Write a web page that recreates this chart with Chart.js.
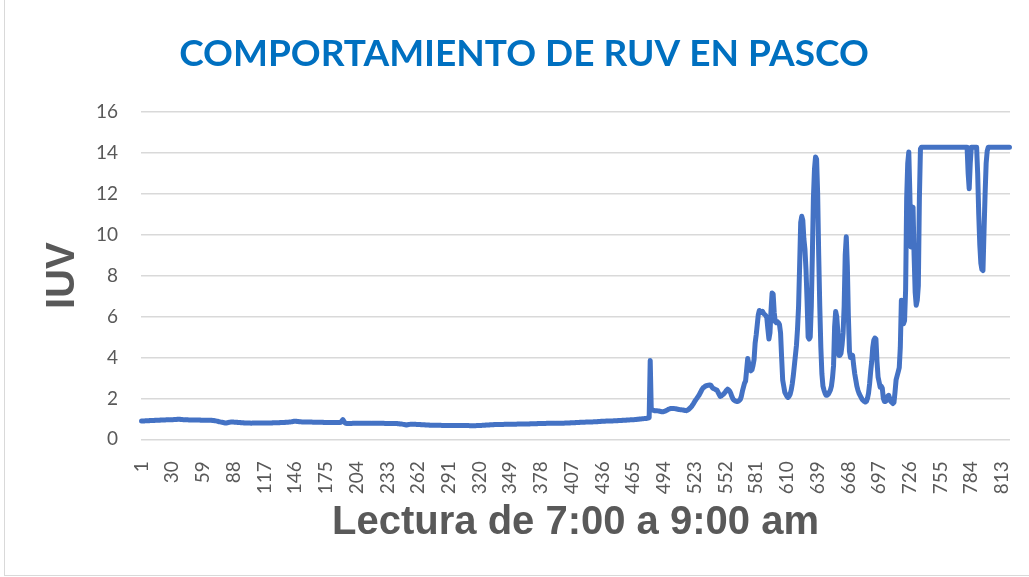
<!DOCTYPE html>
<html>
<head>
<meta charset="utf-8">
<script src="https://cdn.jsdelivr.net/npm/chart.js@4/dist/chart.umd.min.js"></script>
<style>
  html, body { margin: 0; padding: 0; background: #ffffff; overflow: hidden; }
  #wrap { position: relative; width: 1029px; height: 577px; }
  #frame { position: absolute; left: 4px; top: -2px; width: 1100px; height: 577px;
           border-left: 1px solid #d9d9d9; border-bottom: 1px solid #d9d9d9; pointer-events: none; }
</style>
</head>
<body>
<div id="wrap">
  <canvas id="c" width="1029" height="577"></canvas>
  <div id="frame"></div>
</div>
<script>
// ---- Data ----
const chartTitle = "COMPORTAMIENTO DE RUV EN PASCO";
const yTitle = "IUV";
const xTitle = "Lectura de 7:00 a 9:00 am";

// tick labels shown on the category axis
const tickLabels = [1, 30, 59, 88, 117, 146, 175, 204, 233, 262, 291, 320, 349, 378, 407, 436, 465, 494, 523, 552, 581, 610, 639, 668, 697, 726, 755, 784, 813];

// UV index readings, one per reading number
const iuv = [
  0.90,0.90,0.90,0.90,0.91,0.91,0.91,0.91,0.92,0.92,
  0.92,0.92,0.92,0.93,0.93,0.93,0.93,0.93,0.94,0.94,
  0.94,0.94,0.94,0.95,0.95,0.95,0.95,0.96,0.96,0.96,
  0.96,0.97,0.97,0.97,0.98,0.98,0.98,0.97,0.97,0.96,
  0.96,0.95,0.95,0.95,0.95,0.94,0.94,0.94,0.94,0.94,
  0.94,0.94,0.94,0.94,0.94,0.94,0.93,0.93,0.93,0.93,
  0.93,0.93,0.93,0.93,0.93,0.93,0.93,0.92,0.92,0.91,
  0.90,0.89,0.88,0.86,0.85,0.84,0.83,0.82,0.81,0.80,
  0.80,0.81,0.82,0.83,0.84,0.84,0.84,0.84,0.83,0.83,
  0.83,0.82,0.82,0.82,0.81,0.81,0.81,0.80,0.80,0.80,
  0.80,0.80,0.80,0.79,0.79,0.80,0.80,0.80,0.80,0.80,
  0.80,0.80,0.80,0.80,0.80,0.80,0.80,0.80,0.80,0.80,
  0.80,0.80,0.80,0.80,0.81,0.81,0.81,0.81,0.81,0.81,
  0.81,0.82,0.82,0.82,0.82,0.82,0.83,0.83,0.83,0.84,
  0.84,0.85,0.86,0.87,0.88,0.88,0.88,0.87,0.87,0.86,
  0.86,0.85,0.85,0.84,0.84,0.84,0.84,0.84,0.84,0.84,
  0.84,0.84,0.83,0.83,0.83,0.83,0.83,0.83,0.83,0.83,
  0.83,0.83,0.82,0.82,0.82,0.82,0.82,0.82,0.82,0.82,
  0.82,0.82,0.82,0.82,0.82,0.82,0.82,0.82,0.83,0.90,
  0.96,0.88,0.80,0.78,0.77,0.77,0.77,0.77,0.77,0.78,
  0.78,0.78,0.78,0.78,0.78,0.78,0.79,0.79,0.79,0.79,
  0.79,0.79,0.79,0.79,0.79,0.79,0.79,0.78,0.78,0.78,
  0.78,0.78,0.78,0.78,0.78,0.78,0.78,0.78,0.78,0.78,
  0.77,0.77,0.77,0.77,0.77,0.77,0.77,0.77,0.77,0.77,
  0.77,0.77,0.76,0.76,0.75,0.75,0.74,0.73,0.72,0.71,
  0.70,0.71,0.72,0.73,0.74,0.74,0.74,0.73,0.73,0.73,
  0.72,0.72,0.72,0.72,0.71,0.71,0.71,0.71,0.70,0.70,
  0.70,0.70,0.69,0.69,0.69,0.69,0.69,0.69,0.69,0.69,
  0.69,0.69,0.69,0.68,0.68,0.68,0.68,0.68,0.68,0.68,
  0.68,0.68,0.68,0.68,0.68,0.68,0.68,0.68,0.67,0.67,
  0.67,0.67,0.67,0.67,0.67,0.67,0.67,0.67,0.67,0.67,
  0.66,0.66,0.66,0.66,0.66,0.66,0.67,0.67,0.67,0.68,
  0.68,0.68,0.69,0.69,0.69,0.70,0.70,0.70,0.70,0.71,
  0.71,0.71,0.71,0.72,0.72,0.72,0.72,0.72,0.72,0.72,
  0.72,0.72,0.73,0.73,0.73,0.73,0.73,0.73,0.74,0.74,
  0.74,0.74,0.74,0.74,0.74,0.75,0.75,0.75,0.75,0.75,
  0.75,0.75,0.75,0.75,0.75,0.75,0.75,0.76,0.76,0.76,
  0.76,0.76,0.76,0.76,0.77,0.77,0.77,0.77,0.77,0.77,
  0.77,0.77,0.78,0.78,0.78,0.78,0.78,0.78,0.78,0.78,
  0.78,0.79,0.79,0.79,0.79,0.79,0.79,0.79,0.79,0.79,
  0.80,0.80,0.80,0.80,0.80,0.81,0.81,0.81,0.81,0.81,
  0.82,0.82,0.82,0.82,0.83,0.83,0.83,0.83,0.83,0.84,
  0.84,0.84,0.84,0.85,0.85,0.85,0.85,0.86,0.86,0.86,
  0.86,0.87,0.87,0.87,0.88,0.88,0.88,0.88,0.89,0.89,
  0.89,0.90,0.90,0.90,0.90,0.90,0.91,0.91,0.91,0.91,
  0.92,0.92,0.92,0.92,0.93,0.93,0.93,0.93,0.94,0.94,
  0.94,0.95,0.95,0.95,0.96,0.96,0.97,0.97,0.98,0.98,
  0.99,0.99,1.00,1.00,1.01,1.02,1.02,1.03,1.04,1.05,
  3.85,1.45,1.43,1.42,1.40,1.40,1.40,1.39,1.38,1.37,
  1.36,1.35,1.35,1.36,1.38,1.40,1.43,1.46,1.48,1.50,
  1.50,1.51,1.51,1.50,1.49,1.48,1.47,1.46,1.45,1.45,
  1.44,1.43,1.42,1.41,1.40,1.42,1.45,1.50,1.55,1.60,
  1.68,1.76,1.85,1.93,2.00,2.08,2.15,2.25,2.35,2.45,
  2.52,2.55,2.60,2.62,2.63,2.65,2.66,2.65,2.58,2.50,
  2.48,2.45,2.42,2.40,2.30,2.20,2.10,2.12,2.16,2.20,
  2.26,2.32,2.40,2.45,2.42,2.36,2.25,2.10,1.98,1.92,
  1.88,1.86,1.85,1.86,1.90,1.95,2.10,2.35,2.55,2.75,
  2.85,3.40,3.95,3.70,3.45,3.35,3.40,3.60,3.90,4.70,
  5.10,5.60,6.10,6.30,6.25,6.20,6.25,6.15,6.10,6.05,
  5.95,5.40,4.90,5.20,6.30,7.15,7.10,6.20,5.75,5.70,
  5.75,5.70,5.60,5.20,4.00,2.90,2.60,2.30,2.20,2.10,
  2.05,2.10,2.20,2.40,2.70,3.10,3.60,4.10,4.60,5.40,
  6.50,8.50,10.60,10.90,10.70,9.80,9.30,8.30,6.80,5.00,
  4.90,5.00,6.50,9.00,11.80,13.20,13.80,13.70,12.00,9.00,
  6.50,4.50,3.20,2.60,2.40,2.25,2.15,2.15,2.20,2.30,
  2.40,2.60,3.00,3.60,5.50,6.25,6.00,5.30,4.10,4.10,
  4.20,4.60,5.20,6.50,9.00,9.90,8.50,6.00,4.30,4.00,
  4.05,4.10,3.60,3.20,2.90,2.60,2.40,2.25,2.15,2.05,
  1.95,1.90,1.85,1.82,1.85,2.00,2.25,2.70,3.30,3.80,
  4.50,4.85,4.95,4.90,3.80,3.05,2.80,2.55,2.60,2.50,
  2.00,1.85,1.85,1.90,2.10,2.15,2.00,1.85,1.80,1.75,
  1.80,2.30,2.90,3.10,3.30,3.50,4.50,6.80,6.00,5.65,
  5.80,7.30,11.80,13.50,14.05,12.00,9.40,10.50,11.35,9.00,
  7.20,6.55,6.80,7.50,11.80,14.20,14.28,14.28,14.28,14.28,
  14.28,14.28,14.28,14.28,14.28,14.28,14.28,14.28,14.28,14.28,
  14.28,14.28,14.28,14.28,14.28,14.28,14.28,14.28,14.28,14.28,
  14.28,14.28,14.28,14.28,14.28,14.28,14.28,14.28,14.28,14.28,
  14.28,14.28,14.28,14.28,14.28,14.28,14.28,14.28,14.28,14.28,
  13.00,12.25,13.50,14.28,14.28,14.28,14.28,14.28,14.28,13.00,
  11.00,9.50,8.60,8.30,8.25,10.20,12.00,13.50,14.10,14.28,
  14.28,14.28,14.28,14.28,14.28,14.28,14.28,14.28,14.28,14.28,
  14.28,14.28,14.28,14.28,14.28,14.28,14.28,14.28,14.28,14.28
];

// reading numbers (categories) 1..N
const readings = iuv.map((_, i) => i + 1);

// ---- Chart ----
const GRAY = '#595959';

const titlePlugin = {
  id: 'customTitle',
  afterDraw(chart) {
    const ctx = chart.ctx;
    ctx.save();
    ctx.font = 'bold 37px Lato';
    ctx.fillStyle = '#0070C0';
    ctx.textAlign = 'center';
    ctx.textBaseline = 'middle';
    ctx.fillText(chartTitle, 524, 54);
    ctx.restore();
  }
};

new Chart(document.getElementById('c'), {
  type: 'line',
  data: {
    labels: readings,
    datasets: [{
      data: iuv,
      borderColor: '#4472C4',
      backgroundColor: '#4472C4',
      borderWidth: 5,
      borderJoinStyle: 'round',
      borderCapStyle: 'round',
      pointRadius: 0,
      tension: 0,
      fill: false
    }]
  },
  options: {
    responsive: false,
    animation: false,
    devicePixelRatio: 1,
    layout: { padding: { top: 112, right: 19, bottom: 0, left: 0 } },
    plugins: {
      legend: { display: false },
      title: { display: false },
      tooltip: { enabled: false }
    },
    scales: {
      x: {
        type: 'category',
        offset: true,
        grid: { display: false },
        border: { display: false },
        ticks: {
          autoSkip: false,
          maxRotation: 90,
          minRotation: 90,
          padding: 14,
          color: GRAY,
          font: { family: 'Lato', size: 19 },
          callback: function (value, index) {
            const lab = readings[index];
            return tickLabels.includes(lab) ? String(lab) : null;
          }
        },
        title: {
          display: true,
          text: xTitle,
          color: GRAY,
          font: { family: 'Liberation Sans', size: 40, weight: 'bold' },
          padding: { top: 0, bottom: 30 }
        },
        afterFit(scale) {
          scale.height = 137.7;
          scale.paddingLeft = 0;
          scale.paddingRight = 0;
        }
      },
      y: {
        min: 0,
        max: 16,
        grid: { color: '#D9D9D9', lineWidth: 1.5, drawTicks: false },
        border: { display: false },
        ticks: {
          stepSize: 2,
          padding: 23,
          color: GRAY,
          font: { family: 'Lato', size: 19 }
        },
        title: {
          display: true,
          text: yTitle,
          color: GRAY,
          font: { family: 'Liberation Sans', size: 40, weight: 'bold' },
          padding: { top: 39, bottom: 0 }
        },
        afterFit(scale) {
          scale.width = 141;
          scale.paddingTop = 0;
          scale.paddingBottom = 0;
        }
      }
    }
  },
  plugins: [titlePlugin]
});
</script>
</body>
</html>
